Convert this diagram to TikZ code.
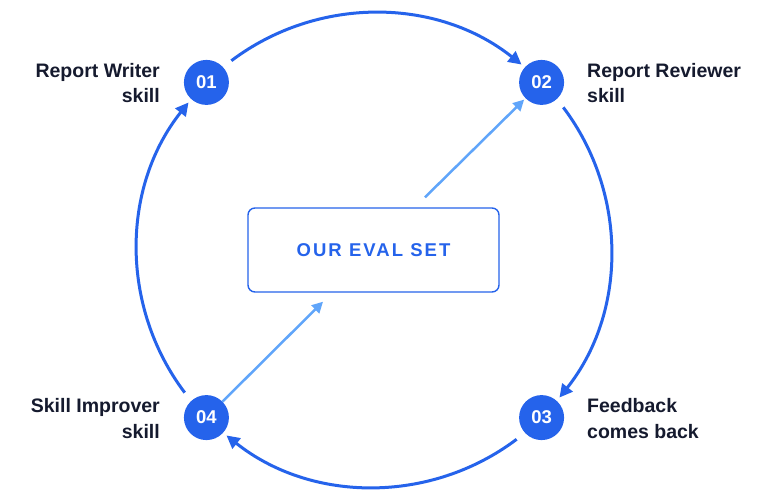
\documentclass[tikz,border=0pt]{standalone}
\usepackage{fontspec}
\setmainfont{Liberation Sans}
\usetikzlibrary{arrows.meta,calc}
\definecolor{mainblue}{HTML}{2563EB}
\definecolor{lightblue}{HTML}{60A5FA}
\definecolor{ink}{HTML}{151A2E}
\begin{document}
\begin{tikzpicture}[x=1pt,y=-1pt,
  stepnum/.style={circle,fill=mainblue,minimum size=45pt,inner sep=0pt,outer sep=0pt,text=white,font=\fontsize{18.5}{20}\selectfont\bfseries},
  lbl/.style={text=ink,font=\fontsize{19.5}{25.6}\selectfont\bfseries,inner sep=0pt},
  cyc/.style={draw=mainblue,line width=3pt,-{Triangle[length=13pt,width=13pt]}},
  feed/.style={draw=lightblue,line width=2.5pt,-{Triangle[length=11pt,width=11pt]}},
  evalbox/.style={draw=mainblue,line width=1.4pt,rounded corners=7pt,minimum width=251pt,minimum height=84pt,inner sep=0pt,text=mainblue,font={\fontsize{18.5}{20}\selectfont\bfseries\addfontfeatures{LetterSpace=11}}}]
\useasboundingbox (0,0) rectangle (768,502);
\fill[white] (0,0) rectangle (768,502);
\coordinate (c) at (374,250);
\def\R{237}
\node[stepnum] (n1) at ($(c)+(225:\R)$) {01};
\node[stepnum] (n2) at ($(c)+(315:\R)$) {02};
\node[stepnum] (n3) at ($(c)+(45:\R)$) {03};
\node[stepnum] (n4) at ($(c)+(135:\R)$) {04};
\node[evalbox] (box) at (373.5,250) {OUR EVAL SET};
\node[lbl,anchor=base east,align=right] (l1) at (160,103) {Report Writer\\skill};
\node[lbl,anchor=base west,align=left] (l2) at (587,103) {Report Reviewer\\skill};
\node[lbl,anchor=base west,align=left] (l3) at (587,438) {Feedback\\comes back};
\node[lbl,anchor=base east,align=right] (l4) at (160,438) {Skill Improver\\skill};
% cycle arcs (angles measured clockwise on screen, since y points down)
\coordinate (a1) at ($(c)+(233:\R)$);
\coordinate (a2) at ($(c)+(323:\R)$);
\coordinate (a3) at ($(c)+(53:\R)$);
\coordinate (a4) at ($(c)+(143:\R)$);
\draw[cyc] (a1) arc[start angle=233,end angle=308.5,radius=\R];
\draw[cyc] (a2) arc[start angle=323,end angle=398.5,radius=\R];
\draw[cyc] (a3) arc[start angle=53,end angle=128.5,radius=\R];
\draw[cyc] (a4) arc[start angle=143,end angle=218.5,radius=\R];
\coordinate (s1) at ($(box.north)+(51.5,-10)$);
\coordinate (e2) at ($(box.south)+(-50.5,9)$);
\draw[feed,shorten >=2pt] (s1) -- (n2);
\draw[feed] (n4) -- (e2);
\end{tikzpicture}
\end{document}
